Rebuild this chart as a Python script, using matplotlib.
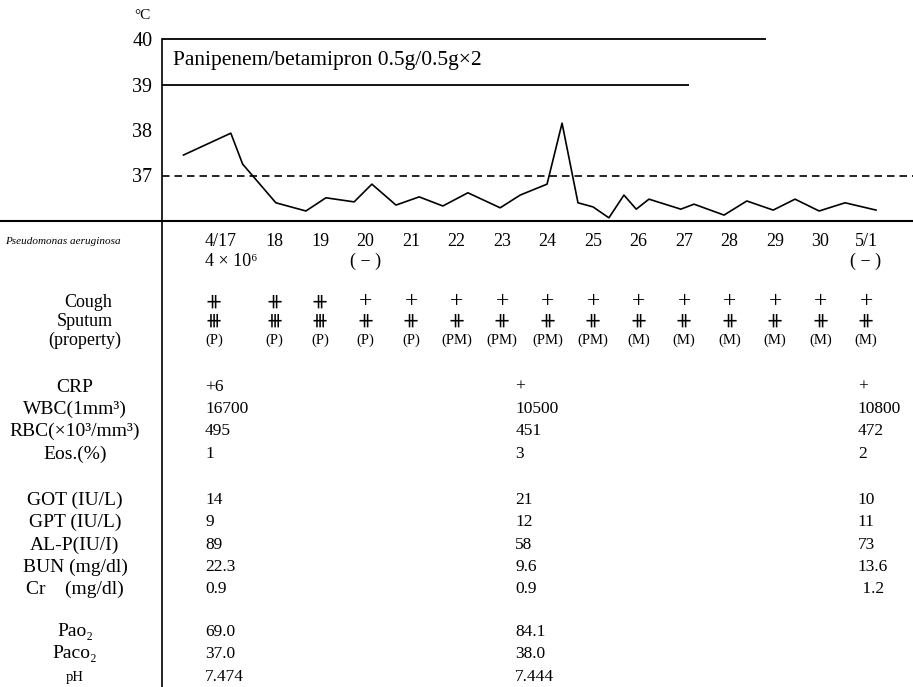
import numpy as np
import matplotlib
matplotlib.use('Agg')
import matplotlib.pyplot as plt
from matplotlib.lines import Line2D
from matplotlib.transforms import blended_transform_factory

plt.rcParams['font.family'] = ['Liberation Serif', 'STIXGeneral', 'DejaVu Sans']

# body temperature (day 0 = 4/17)
temp_day = [-1.0, 0.04, 0.3, 1.03, 1.69, 2.13, 2.75, 3.14, 3.67, 4.18, 4.7,
            5.25, 5.96, 6.4, 6.99, 7.32, 7.67, 8.0, 8.35, 8.68, 8.95,
            9.23, 9.93, 10.22, 10.88, 11.38, 11.96, 12.44, 12.97, 13.54, 14.22]
temp = [37.45, 37.93, 37.25, 36.40, 36.22, 36.51, 36.42, 36.81, 36.35, 36.53, 36.33,
        36.62, 36.29, 36.57, 36.81, 38.15, 36.40, 36.31, 36.07, 36.57, 36.26,
        36.48, 36.26, 36.37, 36.13, 36.44, 36.24, 36.48, 36.22, 36.40, 36.24]
temp_ticks = [37, 38, 39, 40]
normal_temp = 37

drug_label = 'Panipenem/betamipron 0.5g/0.5g×2'
drug_end_top = 11.8
drug_end_bottom = 10.1

# daily columns
dates = ['4/17', '18', '19', '20', '21', '22', '23', '24', '25', '26', '27', '28', '29', '30', '5/1']
culture = ['4 × 10⁶', '', '', '( − )', '', '', '', '', '', '', '', '', '', '', '( − )']
cough = ['⧺', '⧺', '⧺', '+', '+', '+', '+', '+', '+', '+', '+', '+', '+', '+', '+']
sputum = ['⧻', '⧻', '⧻', '⧺', '⧺', '⧺', '⧺', '⧺', '⧺', '⧺', '⧺', '⧺', '⧺', '⧺', '⧺']
sputum_type = ['(P)', '(P)', '(P)', '(P)', '(P)', '(PM)', '(PM)', '(PM)', '(PM)',
               '(M)', '(M)', '(M)', '(M)', '(M)', '(M)']

# laboratory data on 4/17, 4/23, 5/1
lab_names = ['CRP', 'WBC(1mm³)', 'RBC(×10³/mm³)', 'Eos.(%)',
             'GOT (IU/L)', 'GPT (IU/L)', 'AL-P(IU/I)', 'BUN (mg/dl)', 'Cr    (mg/dl)',
             'Pao₂', 'Paco₂', 'pH']
lab_0417 = ['+6', '16700', '495', '1', '14', '9', '89', '22.3', '0.9', '69.0', '37.0', '7.474']
lab_0423 = ['+', '10500', '451', '3', '21', '12', '58', '9.6', '0.9', '84.1', '38.0', '7.444']
lab_0501 = ['+', '10800', '472', '2', '10', '11', '73', '13.6', ' 1.2', '', '', '']

# layout (pixel rows of the 913x687 image)
W, H = 913, 687
x_axis = 162          # vertical rule
x_day0 = 229          # x of day 0
day_px = 45.5
y_top, y_base = 39, 221
lab_cols = [-0.527, 6.29, 13.82]
row_date, row_cult = 241, 261
row_cough, row_sput, row_prop = 302, 321, 340
lab_rows = [387, 409, 431, 454, 500, 522, 545, 567, 589, 632, 654, 677]
label_x = 75

fig = plt.figure(figsize=(W / 100, H / 100), dpi=100)
xlim = ((x_axis - x_day0) / day_px, (W - x_day0) / day_px)

ax = fig.add_axes([x_axis / W, (H - y_base) / H, 1 - x_axis / W, (y_base - y_top) / H])
ax.set_xlim(xlim)
ax.set_ylim(36, 40)
for s in ['top', 'right', 'bottom']:
    ax.spines[s].set_visible(False)
ax.spines['left'].set_linewidth(1.2)
ax.set_xticks([])
ax.set_yticks(temp_ticks)
ax.tick_params(axis='y', length=0, pad=7, labelsize=14.5)

ax.plot(temp_day, temp, color='black', lw=1.2)
ax.axhline(normal_temp, color='black', lw=1.2, dashes=(4.5, 3))
ax.hlines(40, xlim[0], drug_end_top, color='black', lw=1.3, clip_on=False)
ax.hlines(39, xlim[0], drug_end_bottom, color='black', lw=1.3)
ax.text(xlim[0] + 0.25, 39.52, drug_label, fontsize=15.5, va='center', ha='left')
ax.text(-0.037, 1.13, '°C', transform=ax.transAxes, fontsize=11, ha='left', va='center')

# lower table
tab = fig.add_axes([x_axis / W, 0, 1 - x_axis / W, (H - y_base) / H])
tab.set_xlim(xlim)
tab.set_ylim(H, y_base)
tab.axis('off')
tab.axvline(xlim[0], color='black', lw=1.2, clip_on=False)
fig.add_artist(Line2D([0, 1], [(H - y_base) / H] * 2, color='black', lw=1.5))

for i in range(len(dates)):
    x = i if i > 0 else lab_cols[0]
    ha = 'center' if i > 0 else 'left'
    tab.text(x, row_date, dates[i], fontsize=13, ha=ha, va='center')
    tab.text(x, row_cult, culture[i], fontsize=13, ha=ha, va='center')
    tab.text(x, row_cough, cough[i], fontsize=17, ha=ha, va='center')
    tab.text(x, row_sput, sputum[i], fontsize=17, ha=ha, va='center')
    tab.text(x, row_prop, sputum_type[i], fontsize=10.5, ha=ha, va='center')

for j in range(len(lab_names)):
    y = lab_rows[j]
    for col, vals in zip(lab_cols, [lab_0417, lab_0423, lab_0501]):
        tab.text(col, y, vals[j], fontsize=12.5, ha='left', va='center')

lt = blended_transform_factory(fig.transFigure, tab.transData)
fig.text(5 / W, row_date, 'Pseudomonas aeruginosa', transform=lt, fontsize=8,
         style='italic', ha='left', va='center')
fig.text(88 / W, row_cough, 'Cough', transform=lt, fontsize=13, ha='center', va='center')
fig.text(85 / W, row_sput, 'Sputum', transform=lt, fontsize=13, ha='center', va='center')
fig.text(85 / W, row_prop, '(property)', transform=lt, fontsize=13, ha='center', va='center')
for j, name in enumerate(lab_names):
    fs = 10.5 if name == 'pH' else 14
    fig.text(label_x / W, lab_rows[j], name, transform=lt, fontsize=fs, ha='center', va='center')

fig.savefig('out.png', dpi=100)
